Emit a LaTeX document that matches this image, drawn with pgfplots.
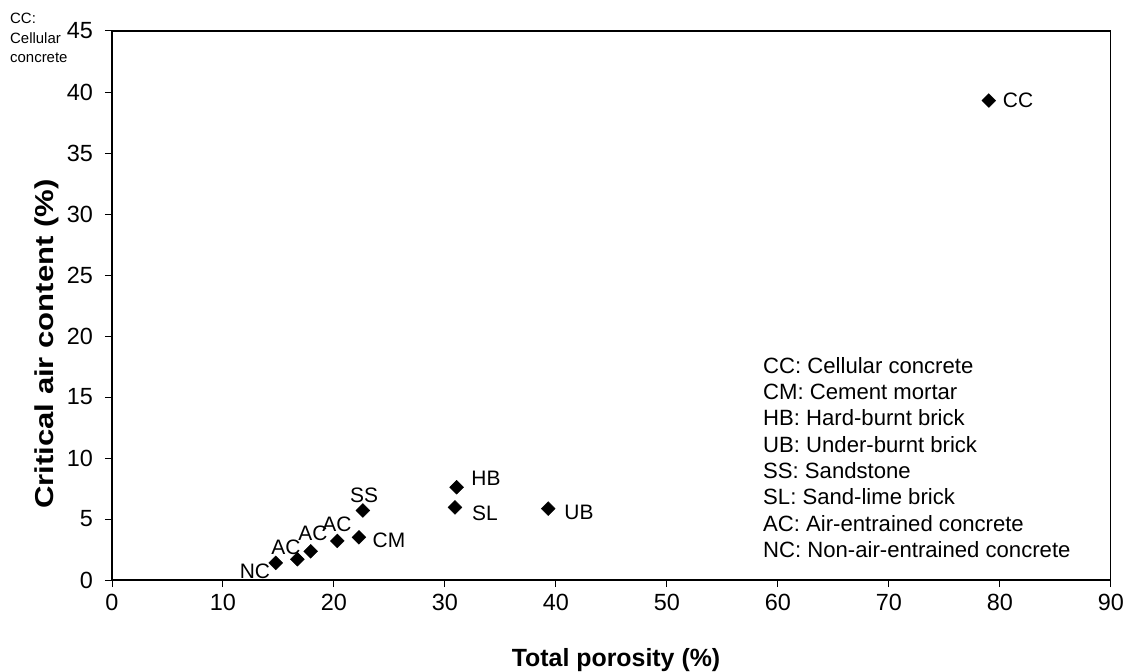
\documentclass[border=0pt]{standalone}
\usepackage{pgfplots}
\pgfplotsset{compat=1.18}
\usepackage{fontspec}
\setmainfont{Liberation Sans}
\begin{document}
\begin{tikzpicture}
\path[use as bounding box] (-112bp,-92bp) rectangle (1021bp,580bp);
\begin{axis}[
  scale only axis, width=999bp, height=549bp,
  xmin=0, xmax=90, ymin=0, ymax=45,
  xtick={0,10,...,90}, ytick={0,5,...,45},
  axis line style={line width=1.1pt},
  tick style={black, line width=1pt},
  tick align=outside, major tick length=7bp,
  xtick pos=bottom, ytick pos=left,
  /pgf/number format/assume math mode=true,
  ticklabel style={font=\fontsize{23.5}{23.5}\selectfont},
  xticklabel style={anchor=north, inner sep=0pt, yshift=-7bp},
  yticklabel style={anchor=east, inner sep=0pt, xshift=-12bp},
]
\addplot[only marks, mark=square*, mark size=4.9bp, mark options={rotate=45, fill=black, draw=black}] coordinates {
(14.75,1.4) (16.7,1.7) (17.9,2.35) (20.3,3.2) (22.25,3.5) (22.6,5.7)
(31.05,7.6) (30.9,5.95) (39.3,5.85) (79.0,39.3)
};
\end{axis}
\begin{scope}[every node/.style={font=\fontsize{21}{21}\selectfont, inner sep=0pt}]
\node at (143bp,9bp) {NC};
\node at (174bp,33bp) {AC};
\node at (201bp,47bp) {AC};
\node at (225bp,56bp) {AC};
\node at (252bp,85bp) {SS};
\node at (277bp,40bp) {CM};
\node at (374bp,102bp) {HB};
\node at (373bp,67bp) {SL};
\node at (467bp,68bp) {UB};
\node at (906bp,480bp) {CC};
\end{scope}
\node[anchor=north west, inner sep=0pt, align=left, font=\fontsize{22.2}{26.4}\selectfont] at (651bp,223bp)
{CC: Cellular concrete\\CM: Cement mortar\\HB: Hard-burnt brick\\UB: Under-burnt brick\\SS: Sandstone\\SL: Sand-lime brick\\AC: Air-entrained concrete\\NC: Non-air-entrained concrete};
\node[anchor=north west, inner sep=0pt, align=left, font=\fontsize{15}{19.5}\selectfont] at (-102bp,567bp)
{CC:\\Cellular\\concrete};
\node[anchor=base, inner sep=0pt, font=\fontsize{25}{25}\selectfont\bfseries] at (504bp,-86bp) {Total porosity (\%)};
\node[anchor=base, rotate=90, xscale=1.2, inner sep=0pt, font=\fontsize{26}{26}\selectfont\bfseries] at (-58bp,236bp) {Critical air content (\%)};
\end{tikzpicture}
\end{document}
